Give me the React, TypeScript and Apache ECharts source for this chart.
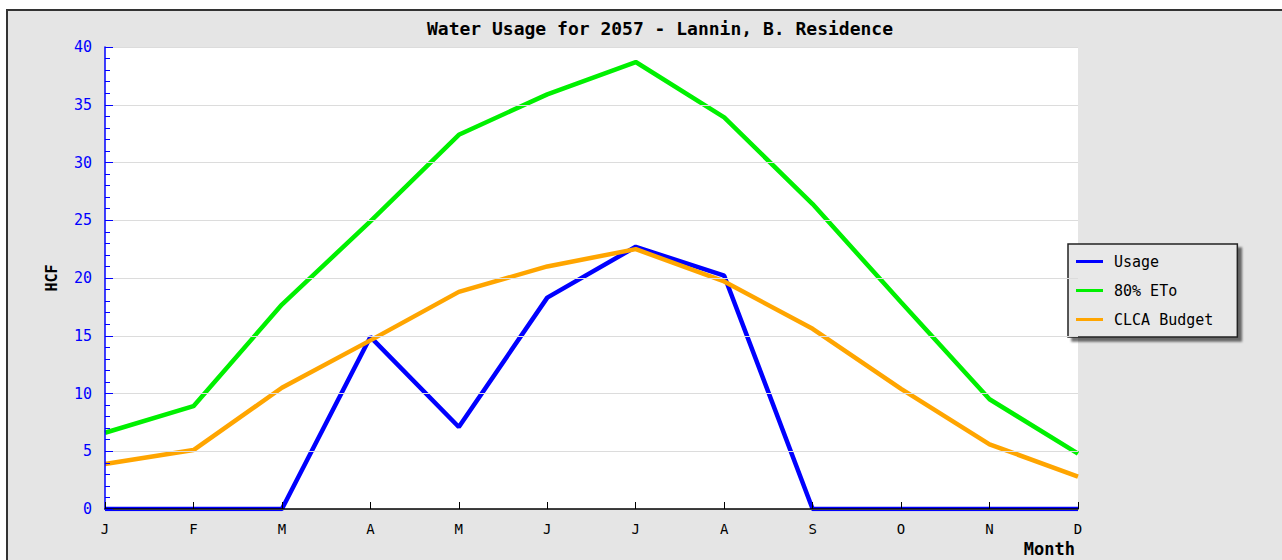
import React, { useEffect, useRef } from "react";
import * as echarts from "echarts";

const months = ["J", "F", "M", "A", "M", "J", "J", "A", "S", "O", "N", "D"];
const usage = [0, 0, 0, 14.9, 7.1, 18.3, 22.7, 20.2, 0, 0, 0, 0];
const eto = [6.6, 8.9, 17.7, 24.9, 32.4, 35.9, 38.7, 33.9, 26.4, 17.9, 9.5, 4.8];
const clca = [3.9, 5.1, 10.5, 14.6, 18.8, 21.0, 22.5, 19.7, 15.6, 10.4, 5.6, 2.8];

const titleText = "Water Usage for 2057 - Lannin, B. Residence";
const FONT = "'DejaVu Sans Mono', 'Liberation Mono', monospace";

export default function App() {
  const ref = useRef<HTMLDivElement>(null);
  useEffect(() => {
    if (!ref.current) return;
    const chart = echarts.init(ref.current, undefined, { renderer: "svg" });
    chart.setOption({
      animation: false,
      title: {
        text: titleText,
        left: 655,
        textAlign: "center",
        top: 14,
        textStyle: { fontFamily: FONT, fontSize: 18, fontWeight: "bold", color: "#000" },
      },
      legend: {
        orient: "vertical",
        left: 1068,
        top: 244,
        padding: [10, 24, 10, 8],
        itemGap: 14,
        itemWidth: 27,
        itemHeight: 17,
        icon: "path://M0,7 L27,7 L27,10 L0,10 Z",
        backgroundColor: "#e8e8e8",
        borderColor: "#222",
        borderWidth: 1.5,
        shadowColor: "rgba(0,0,0,0.55)",
        shadowBlur: 2,
        shadowOffsetX: 4,
        shadowOffsetY: 4,
        textStyle: { fontFamily: FONT, fontSize: 15, color: "#000", padding: [0, 0, 0, 6] },
        data: ["Usage", "80% ETo", "CLCA Budget"],
      },
      grid: {
        left: 105,
        top: 47,
        width: 973,
        height: 462,
        show: true,
        backgroundColor: "#fff",
        borderWidth: 0,
      },
      xAxis: {
        type: "category",
        data: months,
        boundaryGap: false,
        z: 5,
        axisLine: { lineStyle: { color: "#000", width: 1.5 } },
        axisTick: { inside: true, length: 7, lineStyle: { color: "#000" } },
        axisLabel: { color: "#000", fontFamily: FONT, fontSize: 14, margin: 13 },
        splitLine: { show: false },
        name: "Month",
        nameLocation: "end",
        nameGap: -3,
        nameTextStyle: {
          fontFamily: FONT,
          fontSize: 17,
          fontWeight: "bold",
          color: "#000",
          align: "right",
          verticalAlign: "top",
          padding: [31, 0, 0, 0],
        },
      },
      yAxis: {
        type: "value",
        min: 0,
        max: 40,
        interval: 5,
        z: 5,
        axisLine: { show: true, lineStyle: { color: "#0000ff", width: 1.5 } },
        axisTick: { show: true, inside: true, length: 8, lineStyle: { color: "#0000ff" } },
        minorTick: { show: true, splitNumber: 5, length: 5, lineStyle: { color: "#0000ff" } },
        axisLabel: { color: "#0000ff", fontFamily: FONT, fontSize: 15, margin: 13 },
        splitLine: { show: true, lineStyle: { color: "#dcdcdc", width: 1 } },
        name: "HCF",
        nameLocation: "middle",
        nameGap: 46,
        nameTextStyle: { fontFamily: FONT, fontSize: 15, fontWeight: "bold", color: "#000" },
      },
      series: [
        {
          name: "Usage",
          type: "line",
          data: usage,
          symbol: "none",
          lineStyle: { color: "#0000ff", width: 4.5 },
          itemStyle: { color: "#0000ff" },
          z: 2,
        },
        {
          name: "80% ETo",
          type: "line",
          data: eto,
          symbol: "none",
          lineStyle: { color: "#00f000", width: 4.5 },
          itemStyle: { color: "#00f000" },
          z: 3,
        },
        {
          name: "CLCA Budget",
          type: "line",
          data: clca,
          symbol: "none",
          lineStyle: { color: "#ffa500", width: 4.5 },
          itemStyle: { color: "#ffa500" },
          z: 4,
        },
      ],
    });
    return () => chart.dispose();
  }, []);

  return (
    <div style={{ position: "fixed", left: 0, top: 0, width: 1282, height: 560, background: "#fff", overflow: "hidden" }}>
      <div
        style={{
          position: "absolute",
          left: 6,
          top: 9,
          width: 1300,
          height: 600,
          background: "#e5e5e5",
          borderTop: "2px solid #333",
          borderLeft: "2px solid #333",
        }}
      />
      <div ref={ref} style={{ position: "absolute", left: 0, top: 0, width: 1282, height: 560 }} />
    </div>
  );
}
